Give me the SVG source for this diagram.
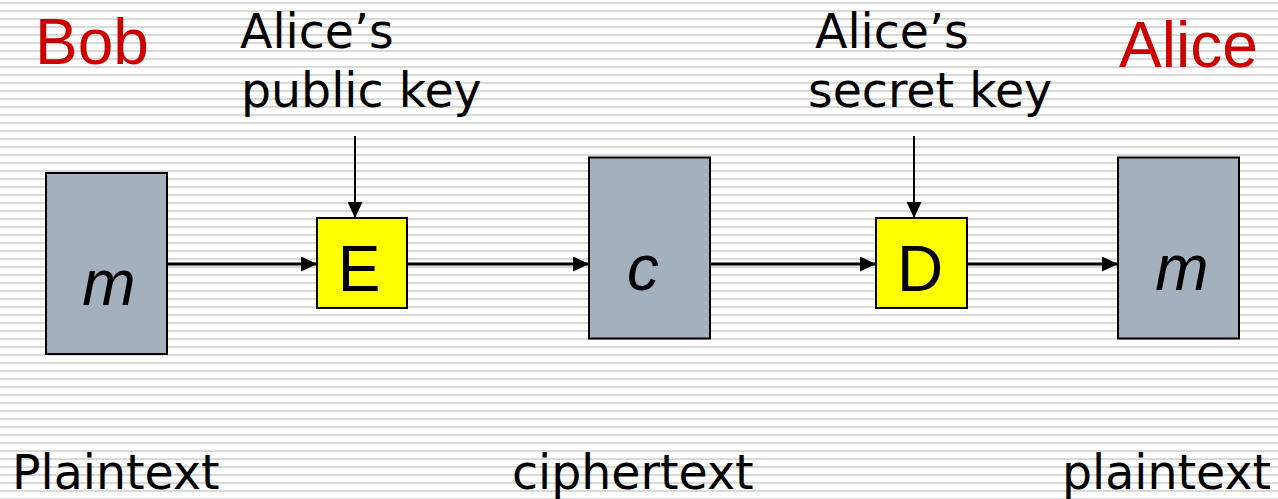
<svg xmlns="http://www.w3.org/2000/svg" width="1278" height="499" viewBox="0 0 1278 499">
  <defs>
    <pattern id="stripes" x="0" y="0" width="8" height="8" patternUnits="userSpaceOnUse">
      <rect x="0" y="2" width="8" height="2" fill="#d9d9d9"/>
    </pattern>
    <marker id="arrow" viewBox="0 0 16 15" refX="16" refY="7.5" markerWidth="16" markerHeight="15" markerUnits="userSpaceOnUse" orient="auto">
      <path d="M0,0 L16,7.5 L0,15 Z" fill="#000"/>
    </marker>
  </defs>
  <style>
    .title { font-family: "Liberation Sans", Arial, sans-serif; font-size: 64px; fill: #cc0000; }
    .label { font-family: "DejaVu Sans", Verdana, sans-serif; font-size: 47.4px; fill: #000; }
    .box { fill: #a3b1bf; stroke: #000; stroke-width: 2; }
    .op { fill: #ffff00; stroke: #000; stroke-width: 2; }
    .sym { font-family: "Liberation Sans", Arial, sans-serif; font-size: 64px; fill: #000; text-anchor: middle; }
    .var { font-style: italic; }
    .conn { stroke: #000; fill: none; marker-end: url(#arrow); }
  </style>
  <rect x="0" y="0" width="1278" height="499" fill="#ffffff"/>
  <rect x="0" y="0" width="1278" height="499" fill="url(#stripes)"/>

  <text class="title" x="35" y="64">Bob</text>
  <text class="title" x="1119" y="67">Alice</text>

  <text class="label" x="240" y="48">Alice’s</text>
  <text class="label" x="241" y="107">public key</text>
  <text class="label" x="815" y="48">Alice’s</text>
  <text class="label" x="808" y="107">secret key</text>

  <g id="connectors">
    <line class="conn" x1="167" y1="264" x2="317" y2="264" stroke-width="3"/>
    <line class="conn" x1="407" y1="264" x2="589" y2="264" stroke-width="3"/>
    <line class="conn" x1="710" y1="264" x2="876" y2="264" stroke-width="3"/>
    <line class="conn" x1="967" y1="264" x2="1118" y2="264" stroke-width="3"/>
    <line class="conn" x1="355" y1="136" x2="355" y2="218" stroke-width="2"/>
    <line class="conn" x1="914" y1="136" x2="914" y2="218" stroke-width="2"/>
  </g>

  <g id="plaintext-bob">
    <rect class="box" x="46" y="173" width="121" height="181"/>
    <text class="sym var" x="109" y="305">m</text>
  </g>
  <g id="encrypt">
    <rect class="op" x="317" y="218" width="90" height="90"/>
    <text class="sym" x="359" y="291">E</text>
  </g>
  <g id="ciphertext">
    <rect class="box" x="589" y="157.5" width="121" height="181"/>
    <text class="sym var" x="643" y="290">c</text>
  </g>
  <g id="decrypt">
    <rect class="op" x="876" y="218" width="91" height="90"/>
    <text class="sym" x="920" y="291">D</text>
  </g>
  <g id="plaintext-alice">
    <rect class="box" x="1118" y="157.5" width="121" height="181"/>
    <text class="sym var" x="1182" y="290">m</text>
  </g>

  <text class="label" x="12" y="489">Plaintext</text>
  <text class="label" x="512" y="489">ciphertext</text>
  <text class="label" x="1062" y="489">plaintext</text>
</svg>
